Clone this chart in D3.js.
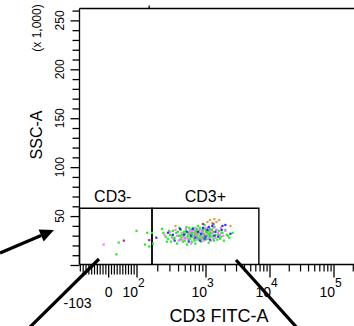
<!DOCTYPE html>
<html lang="en">
<head>
<meta charset="UTF-8">
<title>CD3 FITC-A vs SSC-A</title>
<script src="https://d3js.org/d3.v7.min.js"></script>
<style>
  body { margin: 0; background: #fff; }
  text { font-family: "Liberation Sans", Arial, sans-serif; fill: #000; }
</style>
</head>
<body>
<svg width="354" height="326"></svg>
<script>
// events: [CD3 FITC-A, SSC-A (x 1,000)]
const greenEvents = [
  [27,11],[35,23],[98,35],[130,21],[140,33],[150,19],[165,33],[170,22],[230,37],[260,29],
  [280,27],[300,31],[310,24],[330,35],[350,28],[370,33],[380,22],[400,30],[420,26],[430,36],
  [450,31],[460,24],[480,34],[500,28],[520,39],[530,21],[550,31],[560,26],[580,35],[600,29],
  [620,24],[640,33],[650,38],[670,27],[690,31],[700,22],[720,35],[740,29],[760,40],[780,26],
  [800,33],[820,30],[850,24],[870,36],[900,28],[930,32],[950,41],[980,26],[1000,34],[1050,30],
  [1100,23],[1150,37],[1200,29],[1250,33],[1300,27],[1350,39],[1400,31],[1500,26],[1600,35],
  [1700,29],[1800,33],[1900,25],[2100,31],[2300,28],[2600,33],[600,36],[700,34],[750,31],
  [650,30],[900,35],[1100,32],[500,32],[420,30],[800,27],[1000,30],[1300,34],[560,33],[620,31],
  [240,33],[270,24],[290,35],[320,30],[340,27],[390,34],[410,38],[440,28],[470,33],[490,25],
  [510,35],[540,29],[570,38],[590,27],[610,33],[630,29],[660,36],[680,25],[710,32],[730,37],
  [770,28],[790,35],[810,38],[840,31],[860,27],[890,33],[920,37],[960,30],[990,36],[1020,27],
  [1070,35],[1120,29],[1170,33],[1230,36],[1280,30],[1330,25],[1450,36],[1550,31],[1650,27],
  [1750,33],[2000,36],[2200,30],[700,30],[760,33],[880,30],[1050,33],[1150,31],[600,32]
];
const pinkEvents = [
  [-18,21],[250,31],[320,28],[360,36],[400,25],[440,33],[470,29],[510,37],[540,27],[570,32],
  [610,22],[630,35],[660,29],[700,38],[730,26],[770,32],[800,36],[840,28],[880,33],[920,25],
  [960,38],[1000,31],[1080,27],[1150,35],[1220,30],[1300,38],[1400,28],[1550,33],[1700,38],
  [1850,30],[2000,35],[450,26],[680,33],[900,30],[1200,25],
  [300,34],[380,30],[490,27],[590,35],[720,30],[860,35],[1050,38],[1250,33],[1450,36],[1650,31]
];
const blueEvents = [
  [190,28],[280,33],[350,25],[420,37],[480,31],[560,24],[640,37],[700,28],[760,34],[820,25],
  [900,38],[980,29],[1050,36],[1150,26],[1250,40],[1400,34],[1550,29],[1750,36],[2000,41],
  [2400,32],[600,30],[850,32],[330,31],[530,34],[950,27],[1100,39],[1350,30],[1800,40]
];
const orangeEvents = [[360,40],[1050,44],[1150,46],[1250,43],[1350,47],[1450,44],[1600,46],[2400,40]];
const purpleEvents = [[53,25],[150,25.5],[1300,42],[900,42]];

const yTicks = d3.range(0, 261, 10);
const yLabels = [50, 100, 150, 200, 250];
const xMajor = [-103, 0, 100, 1000, 10000, 100000];
const xMinor = [
  ...d3.range(-100, 0, 10), ...d3.range(10, 100, 10),
  ...d3.range(200, 1000, 100), ...d3.range(2000, 10000, 1000),
  ...d3.range(20000, 100000, 10000), 200000
];
const xLabels = [
  {v: -103, base: "-103", exp: ""},
  {v: 0, base: "0", exp: ""},
  {v: 100, base: "10", exp: "2"},
  {v: 1000, base: "10", exp: "3"},
  {v: 10000, base: "10", exp: "4"},
  {v: 100000, base: "10", exp: "5"}
];
// gates in data units
const gates = [
  {name: "CD3-", x0: -103, x1: 165, top: 58},
  {name: "CD3+", x0: 165, x1: 6700, top: 58}
];

const svg = d3.select("svg");
const plotLeft = 79.5, plotBottom = 264.5, plotTop = 8.5, plotRight = 354;

// biexponential-like display: linear around zero, log above 100
const xLin = d3.scaleLinear().domain([-103, 100]).range([plotLeft, 137]);
const xLogA = d3.scaleLog().domain([100, 1000]).range([137, 206]);
const xLogB = d3.scaleLog().domain([1000, 100000]).range([206, 334]);
const x = v => v < 100 ? xLin(v) : v < 1000 ? xLogA(v) : xLogB(v);

const y = d3.scaleLinear().domain([0, 262.144]).range([265, plotTop]);

// frame
svg.append("line").attr("x1", plotLeft).attr("x2", plotRight).attr("y1", plotTop).attr("y2", plotTop)
  .attr("stroke", "#000").attr("stroke-width", 1.3);
svg.append("line").attr("x1", x(150)).attr("x2", x(150)).attr("y1", plotTop).attr("y2", plotTop - 3)
  .attr("stroke", "#000").attr("stroke-width", 1.3);

// y axis
const yMinorAxis = d3.axisLeft(y).tickValues(yTicks.filter(d => d % 50)).tickSize(7).tickFormat("");
const yMajorAxis = d3.axisLeft(y).tickValues(yTicks.filter(d => d % 50 === 0)).tickSize(9).tickFormat("");
[yMinorAxis, yMajorAxis].forEach(ax => {
  const g = svg.append("g").attr("transform", `translate(${plotLeft},0)`).call(ax);
  g.select(".domain").remove();
  g.selectAll("line").attr("stroke", "#000").attr("stroke-width", 1.3);
});
svg.append("line").attr("x1", plotLeft).attr("x2", plotLeft).attr("y1", plotTop).attr("y2", plotBottom)
  .attr("stroke", "#000").attr("stroke-width", 1.3);

svg.selectAll(".ylab").data(yLabels).join("text")
  .attr("class", "ylab")
  .attr("transform", d => `translate(64,${y(d)}) rotate(-90)`)
  .attr("text-anchor", "middle")
  .style("font-size", "12px")
  .text(d => d);

svg.append("text")
  .attr("transform", "translate(42,135) rotate(-90)")
  .attr("text-anchor", "middle")
  .style("font-size", "16px")
  .text("SSC-A");
svg.append("text")
  .attr("transform", "translate(41,28) rotate(-90)")
  .attr("text-anchor", "middle")
  .style("font-size", "12px")
  .text("(x 1,000)");

// x axis
svg.append("line").attr("x1", plotLeft).attr("x2", plotRight).attr("y1", plotBottom).attr("y2", plotBottom)
  .attr("stroke", "#000").attr("stroke-width", 1.3);
svg.selectAll(".xminor").data(xMinor).join("line")
  .attr("class", "xminor")
  .attr("x1", d => x(d)).attr("x2", d => x(d))
  .attr("y1", plotBottom).attr("y2", d => (d > -100 && d < 100) ? plotBottom + 10 : plotBottom + 7)
  .attr("stroke", "#000").attr("stroke-width", 1.2);
svg.selectAll(".xmajor").data(xMajor.slice(1)).join("line")
  .attr("class", "xmajor")
  .attr("x1", d => x(d)).attr("x2", d => x(d))
  .attr("y1", plotBottom).attr("y2", plotBottom + 13)
  .attr("stroke", "#000").attr("stroke-width", 1.3);

const xl = svg.selectAll(".xlab").data(xLabels).join("text")
  .attr("class", "xlab")
  .style("font-size", "14px");
xl.filter(d => !d.exp)
  .attr("x", d => d.v < 0 ? x(d.v) - 2 : x(d.v))
  .attr("y", d => d.v < 0 ? 308 : 297)
  .attr("text-anchor", "middle")
  .text(d => d.base);
xl.filter(d => d.exp)
  .attr("x", d => x(d.v) + 1).attr("y", 297)
  .attr("text-anchor", "end")
  .text(d => d.base);
svg.selectAll(".xexp").data(xLabels.filter(d => d.exp)).join("text")
  .attr("class", "xexp")
  .attr("x", d => x(d.v) + 1).attr("y", 287)
  .style("font-size", "12px")
  .text(d => d.exp);

svg.append("text")
  .attr("x", 219).attr("y", 322)
  .attr("text-anchor", "middle")
  .style("font-size", "18px")
  .text("CD3 FITC-A");

// gates
gates.forEach(g => {
  svg.append("path")
    .attr("d", `M${x(g.x0)},${plotBottom}V${y(g.top)}H${x(g.x1)}V${plotBottom}`)
    .attr("fill", "none").attr("stroke", "#000").attr("stroke-width", 1.4);
  svg.append("text")
    .attr("x", (x(g.x0) + x(g.x1)) / 2 - (g.name === "CD3-" ? 3 : 0))
    .attr("y", 202)
    .attr("text-anchor", "middle")
    .style("font-size", "16px")
    .text(g.name);
});

// events
const groups = [
  {data: greenEvents, color: "#22ee22"},
  {data: pinkEvents, color: "#ff77ff"},
  {data: blueEvents, color: "#3030ff"},
  {data: orangeEvents, color: "#e0a040"},
  {data: purpleEvents, color: "#993399"}
];
groups.forEach(gr => {
  svg.append("g").selectAll("rect").data(gr.data).join("rect")
    .attr("x", d => x(d[0]) - 1).attr("y", d => y(d[1]) - 1)
    .attr("width", 2.2).attr("height", 2.2)
    .attr("fill", gr.color);
});

// annotation arrows drawn over the plot
const arrows = [
  {from: [0, 253], to: [54, 230], head: true},
  {from: [99, 259], to: [27, 330], head: false},
  {from: [236, 260], to: [299, 330], head: false}
];
arrows.forEach(a => {
  const dx = a.to[0] - a.from[0], dy = a.to[1] - a.from[1];
  const len = Math.hypot(dx, dy), ux = dx / len, uy = dy / len;
  const hl = a.head ? 14 : 0;
  svg.append("line")
    .attr("x1", a.from[0]).attr("y1", a.from[1])
    .attr("x2", a.to[0] - ux * hl).attr("y2", a.to[1] - uy * hl)
    .attr("stroke", "#000").attr("stroke-width", 3.2);
  if (a.head) {
    const bx = a.to[0] - ux * hl, by = a.to[1] - uy * hl;
    svg.append("polygon")
      .attr("points", [[a.to[0], a.to[1]], [bx - uy * 6.5, by + ux * 6.5], [bx + uy * 6.5, by - ux * 6.5]].join(" "))
      .attr("fill", "#000");
  }
});
</script>
</body>
</html>
